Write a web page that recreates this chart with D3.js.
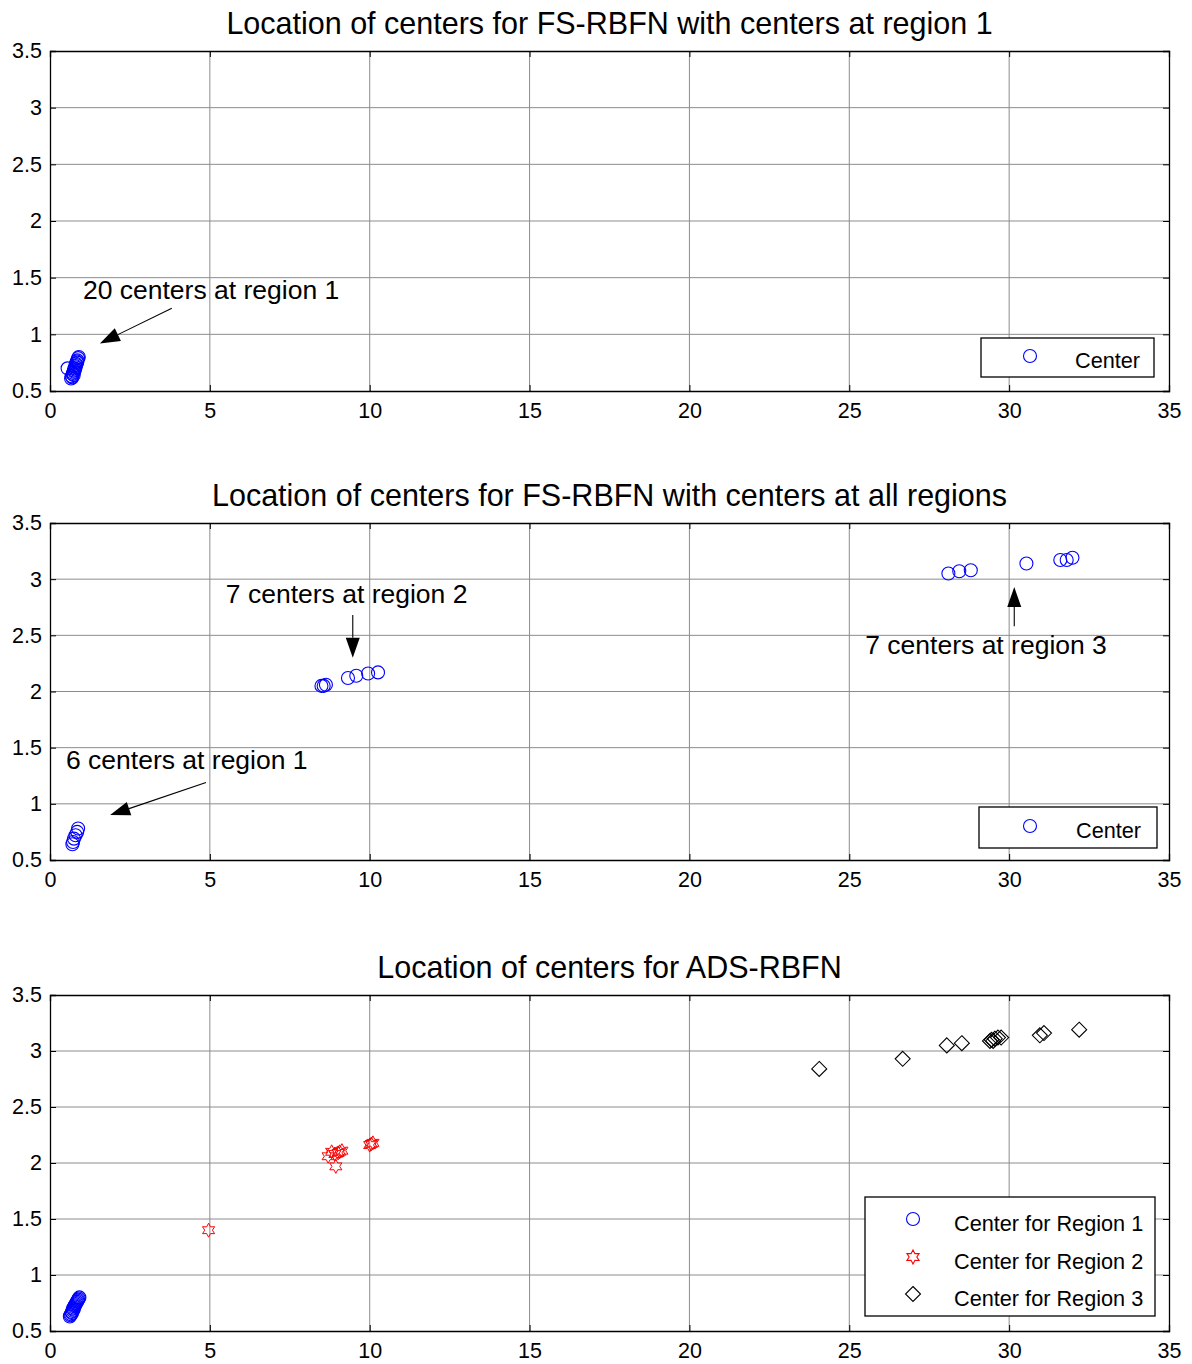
<!DOCTYPE html>
<html>
<head>
<meta charset="utf-8">
<script src="https://cdn.jsdelivr.net/npm/d3@7"></script>
<style>
  body { margin: 0; background: #fff; }
  text { font-family: Arial, "Liberation Sans", sans-serif; }
</style>
</head>
<body>
<script>
// tick values shared by all three plots
var xTicks = [0, 5, 10, 15, 20, 25, 30, 35];
var yTicks = [0.5, 1, 1.5, 2, 2.5, 3, 3.5];

// plot 1: FS-RBFN, all centers at region 1
var p1X = [0.55, 0.66, 0.68, 0.70, 0.71, 0.72, 0.74, 0.75, 0.76, 0.77, 0.78, 0.79, 0.80, 0.81, 0.82, 0.84, 0.85, 0.86, 0.88, 0.90];
var p1Y = [0.70, 0.61, 0.63, 0.62, 0.65, 0.66, 0.64, 0.68, 0.67, 0.70, 0.69, 0.72, 0.71, 0.74, 0.73, 0.76, 0.75, 0.77, 0.79, 0.80];

// plot 2: FS-RBFN, centers at all regions
var p2X = [0.70, 0.72, 0.75, 0.80, 0.85, 0.88,
           8.49, 8.56, 8.63, 9.32, 9.58, 9.95, 10.26,
           28.10, 28.44, 28.80, 30.54, 31.60, 31.80, 31.98];
var p2Y = [0.64, 0.66, 0.69, 0.72, 0.75, 0.78,
           2.05, 2.05, 2.06, 2.12, 2.14, 2.16, 2.17,
           3.05, 3.07, 3.08, 3.14, 3.17, 3.17, 3.19];

// plot 3: ADS-RBFN, one series per region
var r1X = [0.62, 0.64, 0.66, 0.68, 0.69, 0.71, 0.72, 0.74, 0.75, 0.77, 0.78, 0.80, 0.82, 0.84, 0.86, 0.88, 0.90, 0.92];
var r1Y = [0.63, 0.64, 0.65, 0.67, 0.66, 0.68, 0.70, 0.69, 0.71, 0.72, 0.73, 0.74, 0.75, 0.76, 0.77, 0.78, 0.79, 0.80];
var r2X = [4.96, 8.70, 8.81, 8.91, 8.94, 9.01, 9.06, 9.13, 10.00, 10.05, 10.10];
var r2Y = [1.40, 2.06, 2.10, 2.08, 1.97, 2.09, 2.10, 2.11, 2.16, 2.17, 2.18];
var r3X = [24.06, 26.67, 28.05, 28.52, 29.40, 29.45, 29.50, 29.55, 29.65, 29.75, 30.96, 31.09, 32.19];
var r3Y = [2.84, 2.93, 3.05, 3.07, 3.09, 3.10, 3.09, 3.11, 3.12, 3.12, 3.14, 3.16, 3.19];

var titles = [
  "Location of centers for FS-RBFN with centers at region 1",
  "Location of centers for FS-RBFN with centers at all regions",
  "Location of centers for ADS-RBFN"
];

var W = 1192, H = 1364;
var svg = d3.select("body").append("svg").attr("width", W).attr("height", H);

// plot frames: top and bottom in pixels
var frames = [
  {top: 51, bottom: 391},
  {top: 523, bottom: 860},
  {top: 995, bottom: 1331}
];
var left = 50, right = 1169;

function starPath(r) {
  // six pointed star like matlab 'h' marker
  var pts = [];
  for (var i = 0; i < 12; i++) {
    var a = Math.PI / 6 * i - Math.PI / 2;
    var rr = (i % 2 == 0) ? r : r * 0.55;
    pts.push([rr * Math.cos(a), rr * Math.sin(a)]);
  }
  return "M" + pts.map(function(p){ return p[0].toFixed(2) + "," + p[1].toFixed(2); }).join("L") + "Z";
}
function diamondPath(r) {
  return "M0," + (-r) + "L" + r + ",0L0," + r + "L" + (-r) + ",0Z";
}

function drawPanel(i) {
  var f = frames[i];
  var x = d3.scaleLinear().domain([0, 35]).range([left, right]);
  var y = d3.scaleLinear().domain([0.5, 3.5]).range([f.bottom, f.top]);
  var g = svg.append("g");

  // grid
  g.selectAll(".gx").data(xTicks.slice(1, -1)).enter().append("line")
    .attr("x1", function(d){ return x(d); }).attr("x2", function(d){ return x(d); })
    .attr("y1", f.top).attr("y2", f.bottom)
    .attr("stroke", "#8c8c8c").attr("stroke-width", 1);
  g.selectAll(".gy").data(yTicks.slice(1, -1)).enter().append("line")
    .attr("y1", function(d){ return y(d); }).attr("y2", function(d){ return y(d); })
    .attr("x1", left).attr("x2", right)
    .attr("stroke", "#8c8c8c").attr("stroke-width", 1);

  // axes with inward ticks
  var xa = g.append("g").attr("transform", "translate(0," + f.bottom + ")")
    .call(d3.axisBottom(x).tickValues(xTicks).tickSize(-6).tickPadding(12).tickFormat(d3.format("d")));
  var xt = g.append("g").attr("transform", "translate(0," + f.top + ")")
    .call(d3.axisTop(x).tickValues(xTicks).tickSize(-6).tickFormat(""));
  var ya = g.append("g").attr("transform", "translate(" + left + ",0)")
    .call(d3.axisLeft(y).tickValues(yTicks).tickSize(-6).tickPadding(8).tickFormat(function(d){ return d; }));
  var yr = g.append("g").attr("transform", "translate(" + right + ",0)")
    .call(d3.axisRight(y).tickValues(yTicks).tickSize(-6).tickFormat(""));
  [xa, xt, ya, yr].forEach(function(a){
    a.select(".domain").attr("stroke", "#000").attr("stroke-width", 1.3);
    a.selectAll(".tick line").attr("stroke", "#000");
    a.selectAll(".tick text").attr("font-size", 21.5).attr("fill", "#000")
      .style("font-family", "Arial, 'Liberation Sans', sans-serif");
  });

  // title
  g.append("text").attr("x", (left + right) / 2).attr("y", f.top - 17)
    .attr("text-anchor", "middle").attr("font-size", 30.5).text(titles[i]);

  return {g: g, x: x, y: y};
}

function circles(p, xs, ys) {
  p.g.selectAll(null).data(xs).enter().append("circle")
    .attr("cx", function(d){ return p.x(d); })
    .attr("cy", function(d, j){ return p.y(ys[j]); })
    .attr("r", 6.5).attr("fill", "none").attr("stroke", "#0000ff").attr("stroke-width", 1.1);
}

function arrow(p, x1, y1, x2, y2) {
  var ax1 = p.x(x1), ay1 = p.y(y1), ax2 = p.x(x2), ay2 = p.y(y2);
  var ang = Math.atan2(ay2 - ay1, ax2 - ax1);
  var len = 20, wid = 7;
  var bx = ax2 - len * Math.cos(ang), by = ay2 - len * Math.sin(ang);
  p.g.append("line").attr("x1", ax1).attr("y1", ay1).attr("x2", bx).attr("y2", by)
    .attr("stroke", "#000").attr("stroke-width", 1.1);
  var pts = [[ax2, ay2],
    [bx + wid * Math.sin(ang), by - wid * Math.cos(ang)],
    [bx - wid * Math.sin(ang), by + wid * Math.cos(ang)]];
  p.g.append("path").attr("d", "M" + pts.join("L") + "Z").attr("fill", "#000");
}

function label(p, xv, yv, txt) {
  p.g.append("text").attr("x", p.x(xv)).attr("y", p.y(yv))
    .attr("font-size", 26.5).text(txt);
}

function legend(p, x0, y0, w, h, items) {
  p.g.append("rect").attr("x", x0).attr("y", y0).attr("width", w).attr("height", h)
    .attr("fill", "#fff").attr("stroke", "#000").attr("stroke-width", 1.3);
  items.forEach(function(it, k){
    var cy = y0 + it.dy;
    if (it.type == "circle")
      p.g.append("circle").attr("cx", x0 + it.mx).attr("cy", cy).attr("r", 6.5)
        .attr("fill", "none").attr("stroke", it.color).attr("stroke-width", 1.1);
    else
      p.g.append("path").attr("transform", "translate(" + (x0 + it.mx) + "," + cy + ")")
        .attr("d", it.type == "star" ? starPath(7) : diamondPath(7.5))
        .attr("fill", "none").attr("stroke", it.color).attr("stroke-width", 1.1);
    p.g.append("text").attr("x", x0 + it.tx).attr("y", cy + 12).attr("font-size", 21.7).text(it.text);
  });
}

// panel 1
var a = drawPanel(0);
circles(a, p1X, p1Y);
label(a, 1.03, 1.31, "20 centers at region 1");
arrow(a, 3.81, 1.23, 1.56, 0.92);
legend(a, 981, 338, 173, 39, [{type: "circle", color: "#0000ff", mx: 49, tx: 94, dy: 18, text: "Center"}]);

// panel 2
var b = drawPanel(1);
circles(b, p2X, p2Y);
label(b, 5.5, 2.79, "7 centers at region 2");
arrow(b, 9.47, 2.68, 9.47, 2.30);
label(b, 25.5, 2.33, "7 centers at region 3");
arrow(b, 30.16, 2.58, 30.16, 2.93);
label(b, 0.5, 1.31, "6 centers at region 1");
arrow(b, 4.88, 1.19, 1.88, 0.90);
legend(b, 979, 807, 178, 41, [{type: "circle", color: "#0000ff", mx: 51, tx: 97, dy: 19, text: "Center"}]);

// panel 3
var c = drawPanel(2);
circles(c, r1X, r1Y);
c.g.selectAll(null).data(r2X).enter().append("path")
  .attr("transform", function(d, j){ return "translate(" + c.x(d) + "," + c.y(r2Y[j]) + ")"; })
  .attr("d", starPath(7)).attr("fill", "none").attr("stroke", "#ff0000").attr("stroke-width", 1);
c.g.selectAll(null).data(r3X).enter().append("path")
  .attr("transform", function(d, j){ return "translate(" + c.x(d) + "," + c.y(r3Y[j]) + ")"; })
  .attr("d", diamondPath(7.5)).attr("fill", "none").attr("stroke", "#000").attr("stroke-width", 1.1);
legend(c, 865, 1197, 290, 119, [
  {type: "circle", color: "#0000ff", mx: 48, tx: 89, dy: 22, text: "Center for Region 1"},
  {type: "star", color: "#ff0000", mx: 48, tx: 89, dy: 60, text: "Center for Region 2"},
  {type: "diamond", color: "#000", mx: 48, tx: 89, dy: 97, text: "Center for Region 3"}
]);
</script>
</body>
</html>
